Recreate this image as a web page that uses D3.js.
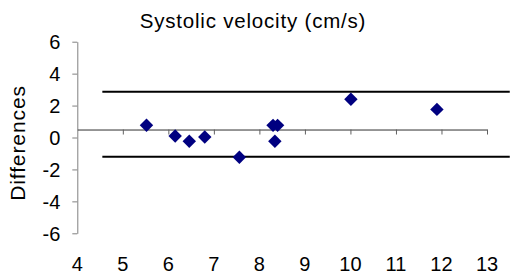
<!DOCTYPE html>
<html>
<head>
<meta charset="utf-8">
<script src="https://cdn.jsdelivr.net/npm/d3@7"></script>
<style>
  body { margin: 0; background: #fff; }
  svg { display: block; }
  text { font-family: "Liberation Sans", Arial, sans-serif; fill: #000; }
</style>
</head>
<body>
<div id="chart"></div>
<script>
// mean values (x) and differences (y)
const meanVals = [5.52, 6.15, 6.46, 6.80, 7.56, 8.30, 8.40, 8.34, 10.01, 11.90];
const diffVals = [0.77, 0.09, -0.24, 0.03, -1.24, 0.76, 0.76, -0.24, 2.40, 1.76];
// limits of agreement
const loaLevels = [2.86, -1.20];
const loaSpan = [4.55, 13.5];
const axisCross = 0.5;
const xTicks = [4, 5, 6, 7, 8, 9, 10, 11, 12, 13];
const yTicks = [-6, -4, -2, 0, 2, 4, 6];

const width = 510, height = 280;
const margin = {top: 41.7, right: 23, bottom: 46.7, left: 77.3};

const svg = d3.select("#chart").append("svg")
  .attr("width", width)
  .attr("height", height);

const x = d3.scaleLinear().domain([4, 13]).range([margin.left, width - margin.right]);
const y = d3.scaleLinear().domain([-6, 6]).range([height - margin.bottom, margin.top]);

// title
svg.append("text")
  .attr("x", 253)
  .attr("y", 28)
  .attr("text-anchor", "middle")
  .attr("font-size", 20.5)
  .style("letter-spacing", "0.8px")
  .text("Systolic velocity (cm/s)");

// y axis title
svg.append("text")
  .attr("transform", "translate(25,143) rotate(-90)")
  .attr("text-anchor", "middle")
  .attr("font-size", 21)
  .style("letter-spacing", "0.9px")
  .text("Differences");

// y axis (plain hyphen for negatives, like the original)
const yAxis = svg.append("g")
  .attr("transform", "translate(" + margin.left + ",0)")
  .call(d3.axisLeft(y).tickValues(yTicks).tickSize(5).tickSizeOuter(0).tickPadding(12)
    .tickFormat(d => String(d)));
yAxis.select(".domain").attr("stroke", "#808080");
yAxis.selectAll(".tick line").attr("stroke", "#808080");
yAxis.selectAll(".tick text")
  .attr("font-family", "Liberation Sans, Arial, sans-serif")
  .attr("font-size", 20)
  .attr("dy", "0.36em");

// x axis crossing at 0.5
const xAxis = svg.append("g")
  .attr("transform", "translate(0," + y(axisCross) + ")")
  .call(d3.axisBottom(x).tickValues(xTicks.slice(1)).tickSize(5).tickSizeOuter(0).tickFormat(""));
xAxis.select(".domain").attr("stroke", "#303030");
xAxis.selectAll(".tick line").attr("stroke", "#606060");

// x tick labels at bottom
svg.append("g").selectAll("text")
  .data(xTicks)
  .enter()
  .append("text")
    .attr("x", d => x(d))
    .attr("y", 271)
    .attr("text-anchor", "middle")
    .attr("font-size", 20)
    .text(d => d);

// limits of agreement lines
svg.append("g").selectAll("line")
  .data(loaLevels)
  .enter()
  .append("line")
    .attr("x1", x(loaSpan[0]))
    .attr("x2", x(loaSpan[1]))
    .attr("y1", d => y(d))
    .attr("y2", d => y(d))
    .attr("stroke", "#000")
    .attr("stroke-width", 2);

// diamond markers
const diamond = d3.symbol().type(d3.symbolDiamond2).size(115);
svg.append("g").selectAll("path")
  .data(meanVals.map((m, i) => [m, diffVals[i]]))
  .enter()
  .append("path")
    .attr("d", diamond)
    .attr("transform", d => "translate(" + x(d[0]) + "," + y(d[1]) + ")")
    .attr("fill", "#000080");
</script>
</body>
</html>
